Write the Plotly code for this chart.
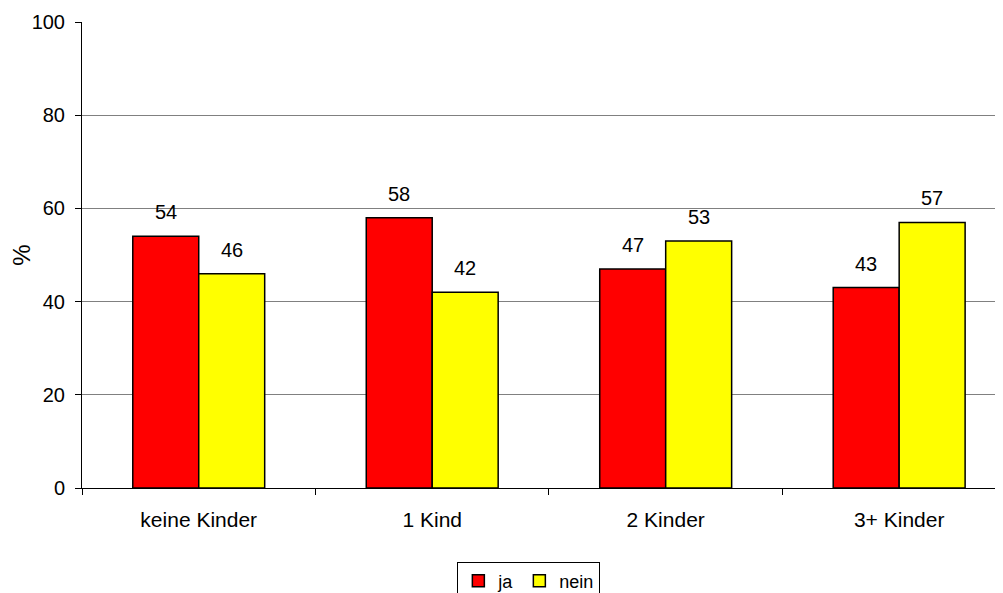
import plotly.graph_objects as go

categories = ["keine Kinder", "1 Kind", "2 Kinder", "3+ Kinder"]
ja = [54, 58, 47, 43]
nein = [46, 42, 53, 57]
y_ticks = [0, 20, 40, 60, 80, 100]

FONT = "Liberation Sans, Arial, sans-serif"
FS = 20

fig = go.Figure()
fig.add_trace(go.Bar(x=categories, y=ja, name="ja",
                     marker=dict(color="#FF0000", line=dict(color="black", width=1.5))))
fig.add_trace(go.Bar(x=categories, y=nein, name="nein",
                     marker=dict(color="#FFFF00", line=dict(color="black", width=1.5))))

# value labels above bars
for vals, shift in ((ja, -33), (nein, 33)):
    for c, v in zip(categories, vals):
        fig.add_annotation(x=c, y=v, text=str(v), showarrow=False,
                           xshift=shift, yshift=24, yanchor="middle",
                           font=dict(size=FS, color="black", family=FONT))

# page body adds 8px offset, so margins are shifted accordingly
fig.update_layout(
    width=1003, height=593,
    margin=dict(l=74, r=0, t=14, b=113, autoexpand=False),
    paper_bgcolor="white", plot_bgcolor="white",
    barmode="group", bargap=0.435, bargroupgap=0,
    font=dict(family=FONT, size=FS, color="black"),
    showlegend=True,
    legend=dict(orientation="h", x=0.481, xanchor="center", y=-0.158, yanchor="top",
                bordercolor="black", borderwidth=1, font=dict(size=18),
                itemwidth=30, tracegroupgap=0),
)
fig.update_xaxes(range=[-0.5, 3.479], showline=True, linecolor="black", linewidth=1,
                 ticks="outside", tickson="boundaries", ticklen=6, tickcolor="black",
                 showgrid=False, tickfont=dict(size=21), ticklabelstandoff=13,
                 automargin=False)
fig.update_yaxes(range=[0, 100], tickvals=y_ticks, showline=True, linecolor="black",
                 linewidth=1, ticks="outside", ticklen=6, tickcolor="black",
                 showgrid=True, gridcolor="#808080", gridwidth=1,
                 zeroline=False, title=dict(text="%", standoff=14),
                 tickfont=dict(size=FS), ticklabelstandoff=6, automargin=False)

fig.write_html("out.html")
